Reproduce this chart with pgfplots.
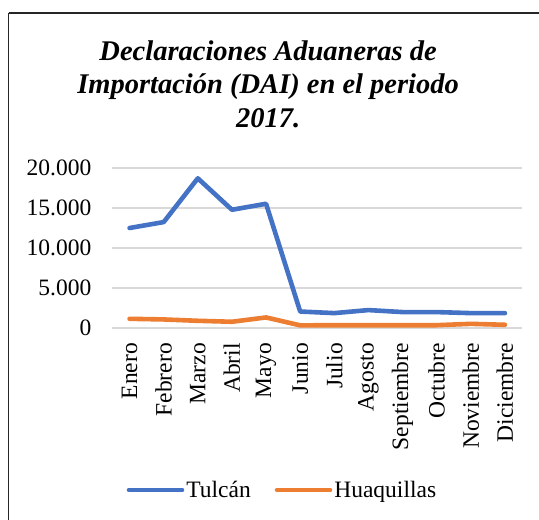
\documentclass[border=0pt]{standalone}
\usepackage{pgfplots}
\pgfplotsset{compat=1.18}
\usepackage{fontspec}
\setmainfont{Liberation Serif}
\definecolor{tblue}{RGB}{68,114,196}
\definecolor{torange}{RGB}{237,125,49}
\definecolor{gridc}{RGB}{217,217,217}
\begin{document}
\begin{tikzpicture}
\useasboundingbox (0pt,0pt) rectangle (539pt,520pt);
\draw[line width=1.3pt,black!85] (8.7pt,507pt) -- (8.7pt,-10pt);
\draw[line width=1.3pt,black!85] (8.7pt,507pt) -- (560pt,507pt);
\begin{axis}[
  at={(112.5pt,192pt)}, anchor=south west,
  scale only axis, width=409.5pt, height=160pt,
  xmin=-0.5, xmax=11.5, ymin=0, ymax=20000,
  axis line style={draw=none},
  ytick={0,5000,...,20000},
  scaled y ticks=false,
  xtick={0,...,11},
  xticklabels={Enero,Febrero,Marzo,Abril,Mayo,Junio,Julio,Agosto,Septiembre,Octubre,Noviembre,Diciembre},
  major tick length=0pt,
  ymajorgrids, grid style={gridc, line width=1.3pt},
  /pgf/number format/.cd, 1000 sep={.}, assume math mode=true,
  /pgfplots/.cd,
  tick label style={font=\fontsize{23.5}{28}\selectfont},
  yticklabel style={anchor=east, inner sep=0pt, xshift=-21pt},
  xticklabel style={rotate=90, anchor=east, inner sep=0pt, xshift=-15pt},
  title={Declaraciones Aduaneras de\\Importación (DAI) en el periodo\\2017.},
  title style={font=\fontsize{28.5}{33.6}\selectfont\bfseries\itshape, align=center,
    at={(0.38,1)}, anchor=south, inner sep=0pt, yshift=34pt},
  legend style={at={(0.415,-1.0125)}, anchor=center, draw=none, fill=none,
    legend columns=2, font=\fontsize{23.5}{28}\selectfont,
    /tikz/every even column/.append style={column sep=22pt}},
  legend cell align=left,
  legend image code/.code={\draw[#1, line cap=round] (0pt,0pt) -- (53pt,0pt);},
]
\addplot[tblue, line width=4.6pt, line join=round, line cap=round] coordinates {
(0,12500) (1,13240) (2,18710) (3,14780) (4,15530) (5,2060)
(6,1860) (7,2240) (8,1990) (9,1990) (10,1860) (11,1860)};
\addlegendentry{Tulcán}
\addplot[torange, line width=4.6pt, line join=round, line cap=round] coordinates {
(0,1150) (1,1070) (2,900) (3,780) (4,1320) (5,330)
(6,350) (7,350) (8,350) (9,350) (10,520) (11,400)};
\addlegendentry{Huaquillas}
\end{axis}
\end{tikzpicture}
\end{document}
